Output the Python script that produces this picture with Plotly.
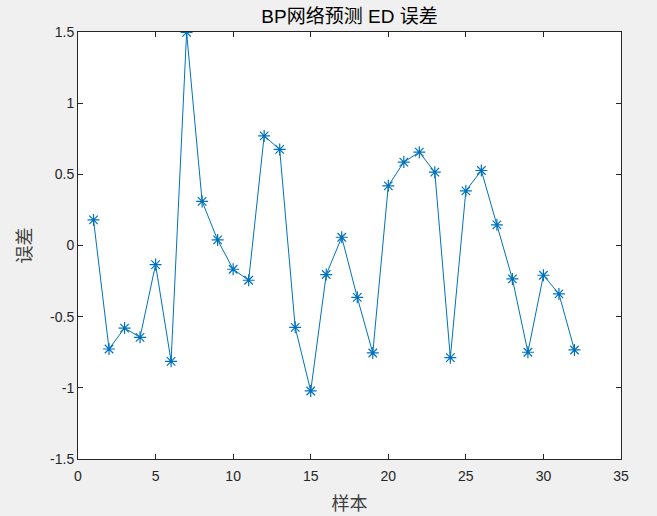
import plotly.graph_objects as go

samples = list(range(1, 33))
errors = [0.18, -0.727, -0.58, -0.645, -0.134, -0.814, 1.497, 0.31, 0.039, -0.167,
          -0.244, 0.77, 0.675, -0.575, -1.022, -0.204, 0.058, -0.364, -0.755, 0.419,
          0.586, 0.656, 0.515, -0.788, 0.384, 0.527, 0.145, -0.235, -0.75, -0.209,
          -0.34, -0.734]

title_text = "BP网络预测 ED 误差"
x_label = "样本"
y_label = "误差"
x_ticks = [0, 5, 10, 15, 20, 25, 30, 35]
y_ticks = [-1.5, -1, -0.5, 0, 0.5, 1, 1.5]
y_tick_labels = ["-1.5", "-1", "-0.5", "0", "0.5", "1", "1.5"]

fig = go.Figure()
fig.add_trace(go.Scatter(
    x=samples, y=errors, mode="lines+markers",
    line=dict(color="#0072BD", width=1),
    marker=dict(symbol="asterisk-open", size=10, color="#0072BD",
                line=dict(color="#0072BD", width=1.2)),
    showlegend=False,
))

axis_common = dict(
    showline=True, linecolor="#262626", linewidth=1, mirror="ticks",
    ticks="inside", ticklen=5, tickcolor="#262626", showgrid=False, zeroline=False,
    automargin=False,
    tickfont=dict(family="Liberation Sans, Arial", size=14, color="#262626"),
)

fig.update_layout(
    width=657, height=516,
    paper_bgcolor="#f0f0f0", plot_bgcolor="white",
    margin=dict(l=78, r=36, t=32, b=57, autoexpand=False),
    title=dict(text=title_text, x=(78 + 621) / 2 / 657, xref="container", xanchor="center",
               y=1 - 16 / 516, yref="container", yanchor="middle", automargin=False,
               font=dict(family="Liberation Sans, Noto Sans CJK SC", size=19, color="#000000")),
    xaxis=dict(range=[0, 35], tickvals=x_ticks, ticklabelstandoff=4,
               title=dict(text=x_label, standoff=14,
                          font=dict(family="Noto Sans CJK SC", size=18, color="#404040")),
               **axis_common),
    yaxis=dict(range=[-1.5, 1.5], tickvals=y_ticks, ticktext=y_tick_labels,
               title=dict(text=y_label, standoff=13,
                          font=dict(family="Noto Sans CJK SC", size=18, color="#404040")),
               **axis_common),
)

fig.write_html("out.html", config={"displayModeBar": False},
               post_script="document.body.style.margin='0';")
